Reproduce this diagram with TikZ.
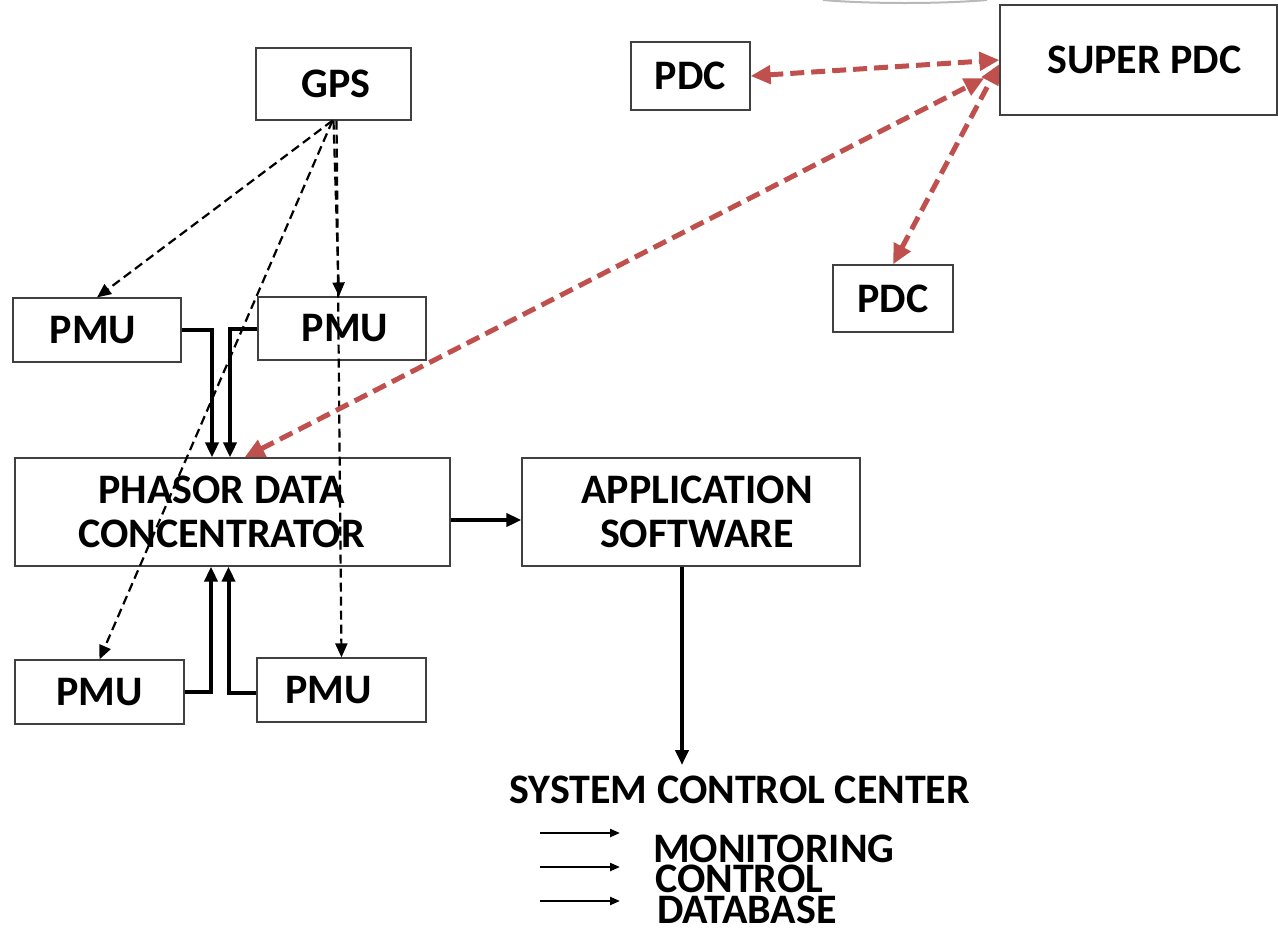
\documentclass[tikz,border=0pt]{standalone}
\usepackage{fontspec}
\setmainfont{Carlito}
\usetikzlibrary{arrows.meta}
\definecolor{redc}{RGB}{192,80,77}
\newcommand{\lblfont}{\fontsize{42}{44}\selectfont\bfseries}
\begin{document}
\begin{tikzpicture}[x=1pt,y=-1pt,
  box/.style={draw=black!75, line width=1.2pt, fill=white, font=\lblfont, align=center, inner sep=0pt},
  plain/.style={font=\lblfont, inner sep=0pt},
  solidarrow/.style={line width=4pt, -{Triangle[length=15pt,width=13pt]}},
  gpsline/.style={line width=2.2pt, dash pattern=on 9pt off 5pt, -{Triangle[length=14pt,width=12pt]}},
  redline/.style={draw=redc, line width=5pt, dash pattern=on 14pt off 7pt, {Triangle[length=20pt,width=18pt]}-{Triangle[length=20pt,width=18pt]}},
  listarrow/.style={line width=2.2pt, -{Triangle[length=10pt,width=8pt]}}
]
\useasboundingbox (0,0) rectangle (1278,930);
% template artifact
\draw[gray!55, line width=2pt] (823,0) .. controls (870,4) and (940,4) .. (987,0);

% boxes
\node[box, minimum width=155pt, minimum height=72pt] (gps) at (333.5,84) {\hspace*{5pt}GPS};
\node[box, minimum width=119pt, minimum height=68pt] (pdca) at (690.5,76) {PDC};
\node[box, minimum width=277pt, minimum height=110pt] (spdc) at (1138.5,60) {\hspace*{12pt}SUPER PDC};
\node[box, minimum width=120pt, minimum height=67pt] (pdcb) at (893,298.5) {PDC};
\node[box, minimum width=168pt, minimum height=64pt] (pmua) at (97,330) {\hspace*{-8pt}PMU};
\node[box, minimum width=168pt, minimum height=63pt] (pmub) at (342,328.5) {\hspace*{6pt}PMU};
\node[box, minimum width=435pt, minimum height=108pt] (pdc) at (232.5,512) {\hspace*{-22pt}PHASOR DATA\\\hspace*{-22pt}CONCENTRATOR};
\node[box, minimum width=338pt, minimum height=108pt] (app) at (691,512) {\hspace*{12pt}APPLICATION\\\hspace*{12pt}SOFTWARE};
\node[box, minimum width=169pt, minimum height=64pt] (pmuc) at (99.5,692) {PMU};
\node[box, minimum width=169pt, minimum height=64pt] (pmud) at (341.5,690) {\hspace*{-26pt}PMU};

% texts
\node[plain] (scc) at (740,790) {SYSTEM CONTROL CENTER};
\node[plain, anchor=west] (mon) at (653,848.5) {MONITORING};
\node[plain, anchor=west] (ctl) at (655,879) {CONTROL};
\node[plain, anchor=west] (dbs) at (657,909.5) {DATABASE};

% GPS dashed lines
\draw[gpsline] ([xshift=-1pt]gps.south) -- (pmua.north);
\draw[gpsline] ([xshift=-1pt]gps.south) -- (pmuc.north);
\draw[gpsline] ([xshift=0pt]gps.south) -- ([xshift=-3pt]pmub.north);
\draw[gpsline] ([xshift=3pt]gps.south) -- (pmud.north);

% PMU to PDC
\draw[solidarrow] (pmua.east) -| ([xshift=-20.5pt]pdc.north);
\draw[solidarrow] (pmub.west) -| ([xshift=-2.5pt]pdc.north);
\draw[solidarrow] (pmuc.east) -| ([xshift=-21.5pt]pdc.south);
\draw[solidarrow] ([shift={(0,3)}]pmud.west) -| ([xshift=-4pt]pdc.south);

% PDC to application
\draw[solidarrow] ([shift={(0,8)}]pdc.east) -- ([shift={(0,8)}]app.west);
\coordinate (sccin) at (682,765);
\draw[solidarrow] (app.south -| sccin) -- (sccin);

% list arrows
\coordinate (la1) at (540,833); \coordinate (lb1) at (620,833);
\coordinate (la2) at (540,867); \coordinate (lb2) at (620,867);
\coordinate (la3) at (540,901); \coordinate (lb3) at (620,901);
\draw[listarrow] (la1) -- (lb1);
\draw[listarrow] (la2) -- (lb2);
\draw[listarrow] (la3) -- (lb3);

% red dashed links
\draw[redline] (pdca.east) -- (spdc.west);
\draw[redline] (pdcb.north) -- ([shift={(0,4)}]spdc.west);
\draw[redline] ([xshift=12pt]pdc.north) -- ([shift={(-15,18)}]spdc.west);
\end{tikzpicture}
\end{document}
